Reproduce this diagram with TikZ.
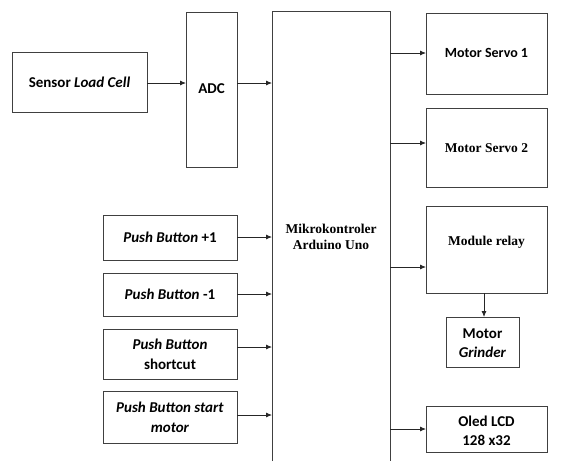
\documentclass[tikz,border=0pt]{standalone}
\usepackage{fontspec}
\setmainfont{Liberation Serif}
\newfontfamily\calib{Carlito}
\usetikzlibrary{arrows.meta}
\begin{document}
\begin{tikzpicture}[x=1pt,y=-1pt,
  box/.style={draw=black!75, line width=0.9pt, inner sep=0pt},
  sanst/.style={font=\calib\bfseries\fontsize{15}{20}\selectfont, align=center},
  seriet/.style={font=\bfseries\fontsize{13.5}{16}\selectfont, align=center},
  arr/.style={draw=black!85, line width=0.8pt, -{Latex[length=6pt,width=5pt]}}]
\useasboundingbox (0,0) rectangle (565,461);
% boxes
\draw[box] (12,52) rectangle (147,112);
\node[sanst] (slc) at (79.5,82) {Sensor \textit{Load Cell}};
\coordinate (slcE) at (147,83);
\draw[box] (186,12) rectangle (237,167);
\node[sanst] (adc) at (211.5,89) {ADC};
\coordinate (adcW) at (186,83);
\coordinate (adcE) at (237,83);
% microcontroller (open bottom)
\draw[box] (272,461) -- (272,11) -- (390,11) -- (390,461);
\node[seriet, inner sep=0pt] (mcu) at (331,237) {Mikrokontroler\\Arduino Uno};
\coordinate (mcuA) at (272,83);
% outputs
\draw[box] (426,13) rectangle (547,94);
\node[sanst, font=\calib\bfseries\fontsize{14}{16}\selectfont] (s1) at (486.5,53) {Motor Servo 1};
\draw[box] (426,108) rectangle (547,187);
\node[seriet] (s2) at (486.5,148) {Motor Servo 2};
\draw[box] (426,206) rectangle (547,293);
\node[seriet] (rel) at (486.5,242) {Module relay};
\draw[box] (446,317) rectangle (519,367);
\node[sanst, font=\calib\bfseries\fontsize{15}{19}\selectfont] (grd) at (482.5,343) {Motor\\\textit{Grinder}};
\draw[box] (426,406) rectangle (547,452);
\node[sanst, font=\calib\bfseries\fontsize{15}{19}\selectfont] (oled) at (486.5,431) {Oled LCD\\128 x32};
% push buttons
\draw[box] (103,215) rectangle (237,260);
\node[sanst] (pb1) at (170,237) {\textit{Push Button} +1};
\draw[box] (103,273) rectangle (237,316);
\node[sanst] (pb2) at (170,294) {\textit{Push Button} -1};
\draw[box] (103,329) rectangle (237,379);
\node[sanst] (pb3) at (170,354) {\textit{Push Button}\\shortcut};
\draw[box] (103,391) rectangle (237,443);
\node[sanst] (pb4) at (170,417) {\textit{Push Button start}\\\textit{motor}};
% coordinates for arrows
\coordinate (o1) at (390,53); \coordinate (i1) at (426,53);
\coordinate (o2) at (390,143); \coordinate (i2) at (426,143);
\coordinate (o3) at (390,267); \coordinate (i3) at (426,267);
\coordinate (o4) at (390,429); \coordinate (i4) at (426,429);
\coordinate (rb) at (484,293); \coordinate (gt) at (484,317);
\coordinate (p1) at (237,237); \coordinate (m1) at (272,237);
\coordinate (p2) at (237,294); \coordinate (m2) at (272,294);
\coordinate (p3) at (237,347); \coordinate (m3) at (272,347);
\coordinate (p4) at (237,415); \coordinate (m4) at (272,415);
\draw[arr] (slcE) -- (adcW);
\draw[arr] (adcE) -- (mcuA);
\draw[arr] (o1) -- (i1);
\draw[arr] (o2) -- (i2);
\draw[arr] (o3) -- (i3);
\draw[arr] (o4) -- (i4);
\draw[arr] (rb) -- (gt);
\draw[arr] (p1) -- (m1);
\draw[arr] (p2) -- (m2);
\draw[arr] (p3) -- (m3);
\draw[arr] (p4) -- (m4);
\end{tikzpicture}
\end{document}
